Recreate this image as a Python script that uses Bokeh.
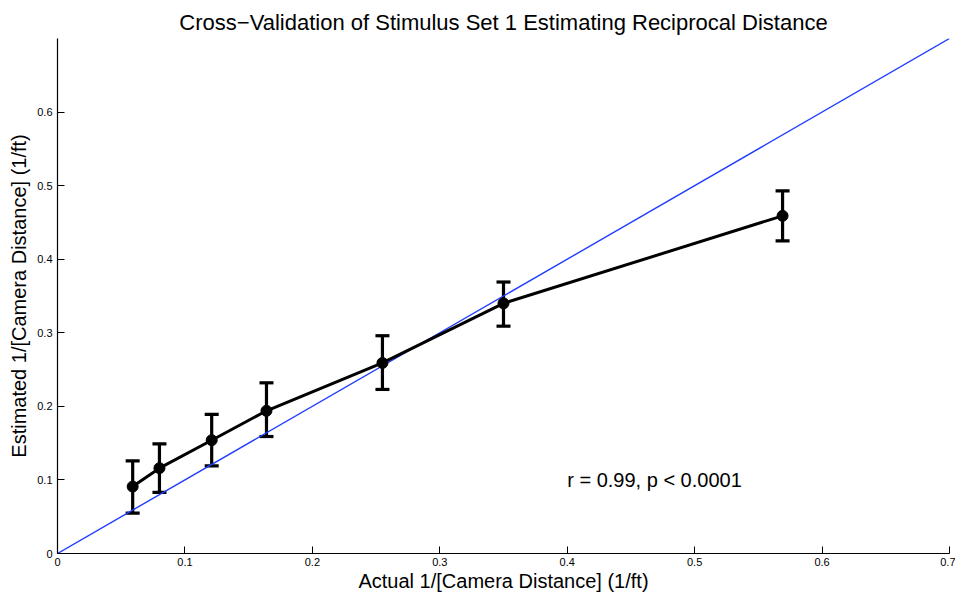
from bokeh.plotting import figure
from bokeh.models import ColumnDataSource, Whisker, TeeHead, Label, FixedTicker, Range1d
from bokeh.embed import file_html
from bokeh.resources import INLINE

# Data
actual = [0.059, 0.080, 0.121, 0.164, 0.255, 0.350, 0.569]
estimated = [0.091, 0.116, 0.154, 0.194, 0.259, 0.340, 0.459]
upper = [0.126, 0.149, 0.189, 0.232, 0.296, 0.369, 0.493]
lower = [0.055, 0.083, 0.119, 0.159, 0.223, 0.309, 0.425]
identity_x = [0.0, 0.7]
identity_y = [0.0, 0.7]
x_ticks = [0, 0.1, 0.2, 0.3, 0.4, 0.5, 0.6, 0.7]
y_ticks = [0, 0.1, 0.2, 0.3, 0.4, 0.5, 0.6]

FONT = "Liberation Sans"

p = figure(frame_width=892, frame_height=515, output_backend="svg", toolbar_location=None,
           x_range=Range1d(0, 0.7), y_range=Range1d(0, 0.7),
           min_border_left=57, min_border_right=6, min_border_top=38, min_border_bottom=42,
           title="Cross\u2212Validation of Stimulus Set 1 Estimating Reciprocal Distance")
p.title.align = "center"
p.title.text_font = FONT
p.title.text_font_size = "22px"
p.title.text_font_style = "normal"
p.title.text_color = "#000000"
p.title.standoff = 7

p.grid.visible = False
p.outline_line_color = None
p.background_fill_color = "white"
p.border_fill_color = "white"

for ax, ticks in ((p.xaxis, x_ticks), (p.yaxis, y_ticks)):
    ax.ticker = FixedTicker(ticks=ticks)
    ax.major_tick_in = 7
    ax.major_tick_out = 0
    ax.minor_tick_in = 0
    ax.minor_tick_out = 0
    ax.axis_line_color = "#000000"
    ax.axis_line_width = 1.2
    ax.major_tick_line_color = "#000000"
    ax.major_label_text_font = FONT
    ax.major_label_text_font_size = "11px"
    ax.major_label_text_color = "#000000"
    ax.axis_label_text_font = FONT
    ax.axis_label_text_font_size = "20px"
    ax.axis_label_text_font_style = "normal"
    ax.axis_label_text_color = "#000000"

p.xaxis.axis_label = "Actual 1/[Camera Distance] (1/ft)"
p.yaxis.axis_label = "Estimated 1/[Camera Distance] (1/ft)"
p.xaxis.major_label_standoff = 4
p.yaxis.major_label_standoff = 5
p.xaxis.axis_label_standoff = 1
p.yaxis.axis_label_standoff = 4

p.line(identity_x, identity_y, line_color="#1f3cff", line_width=1.4)

src = ColumnDataSource(dict(x=actual, y=estimated, upper=upper, lower=lower))
p.line("x", "y", source=src, line_color="black", line_width=3)
w = Whisker(source=src, base="x", upper="upper", lower="lower", dimension="height",
            line_color="black", line_width=3.2,
            upper_head=TeeHead(size=14, line_width=3.2, line_color="black"),
            lower_head=TeeHead(size=14, line_width=3.2, line_color="black"))
p.add_layout(w)
p.scatter("x", "y", source=src, size=11, fill_color="black", line_color="black")

lab = Label(x=0.4, y=0.1, text="r = 0.99, p < 0.0001", text_font=FONT,
            text_font_size="20px", text_color="black", text_baseline="middle", text_align="left")
p.add_layout(lab)

open("out.html", "w").write(file_html(p, INLINE))
